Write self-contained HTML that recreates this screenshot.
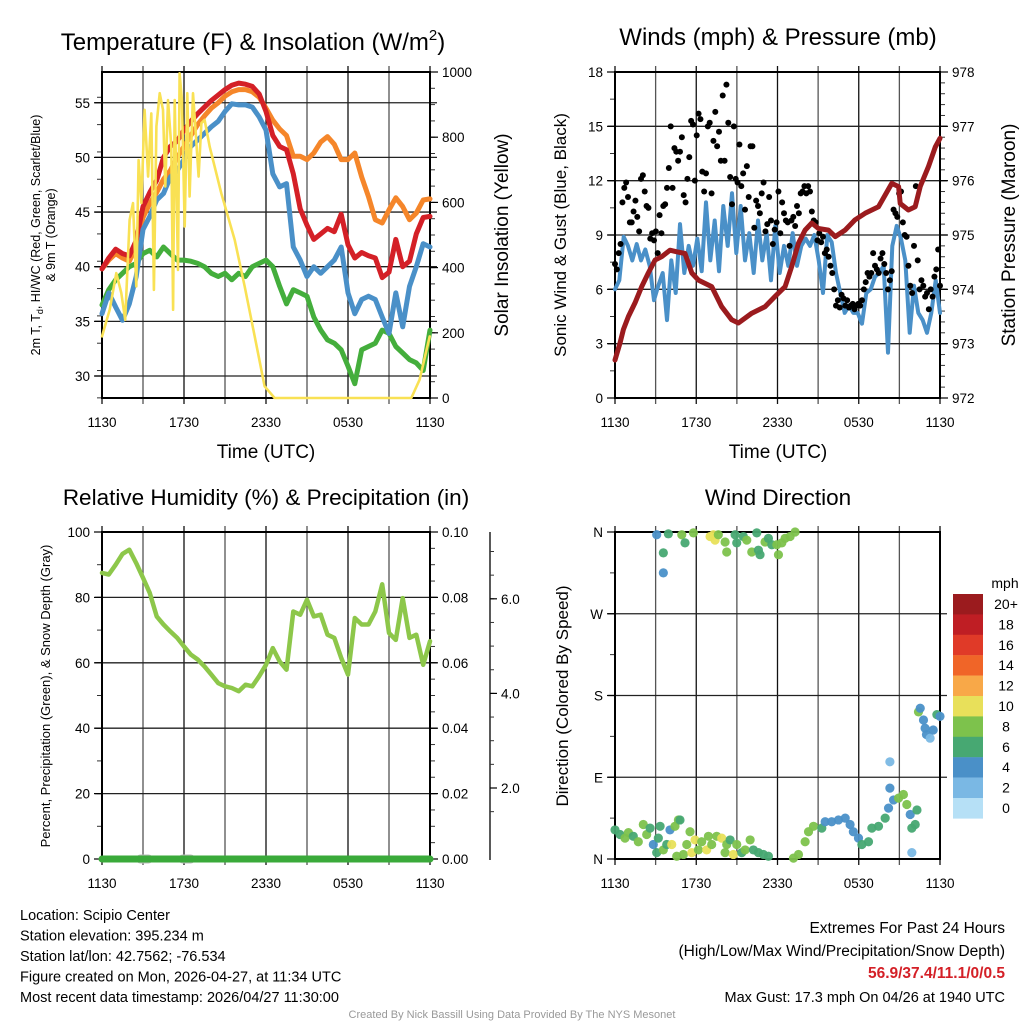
<!DOCTYPE html>
<html><head><meta charset="utf-8"><title>Scipio Center Meteogram</title>
<style>
html,body{margin:0;padding:0;background:#fff;}
svg{display:block;font-family:"Liberation Sans",sans-serif;}
</style></head>
<body>
<svg id="chart" width="1024" height="1024" viewBox="0 0 1024 1024"></svg>
<script>
// ---------- DATA ----------
const tempRed = [39.8,40.8,41.6,41.2,41.0,42.4,45.5,46.8,47.9,50.0,51.0,51.5,52.5,53.3,54.0,54.6,55.2,55.7,56.2,56.6,56.8,56.7,56.5,55.8,54.2,52.0,51.0,50.7,48.5,45.3,43.8,42.5,43.0,43.5,43.2,44.8,42.0,40.8,41.3,41.0,40.8,39.0,39.5,42.5,40.0,40.5,43.0,44.5,44.6];
const tempOrange = [39.8,40.6,41.2,40.8,40.5,41.8,44.5,45.8,46.8,48.0,48.8,50.0,51.0,52.0,53.0,53.8,54.5,55.0,55.6,56.0,56.2,56.2,56.0,55.5,54.5,53.4,52.6,52.0,50.1,50.1,49.8,50.4,51.4,51.9,51.2,49.8,49.8,50.4,48.2,46.4,44.3,44.0,45.2,46.3,45.5,44.3,44.9,46.1,46.2];
const tempBlue = [35.7,37.6,36.3,35.1,36.6,39.1,43.4,44.6,46.1,46.7,48.2,48.8,49.8,51.0,51.6,52.2,52.8,53.3,54.2,54.9,54.8,54.8,54.6,53.7,52.5,48.5,47.3,47.6,41.8,40.6,39.1,40.0,39.4,40.0,40.6,41.8,37.6,35.7,37.0,37.3,37.0,35.4,33.9,37.6,34.5,38.2,40.0,42.1,41.8];
const tempGreen = [36.5,37.9,38.8,39.4,40.0,40.3,41.2,41.5,40.9,41.8,41.2,40.6,40.6,40.5,40.3,40.0,39.4,39.1,39.4,38.8,39.4,39.1,40.0,40.3,40.6,40.0,38.2,36.6,37.9,37.6,37.3,35.4,34.2,33.3,33.0,32.4,30.9,29.3,32.4,32.7,33.0,34.2,33.9,32.7,32.1,31.5,31.2,30.5,34.2];
const solarHours = [0,0.56,1.05,1.41,1.7,2.02,2.27,2.51,2.68,2.88,3.12,3.37,3.61,3.8,3.98,4.22,4.46,4.63,4.83,5.07,5.2,5.32,5.56,5.68,5.85,6.05,6.24,6.41,6.66,6.83,7.07,7.27,7.51,7.88,8.73,9.71,10.44,11.17,11.9,12.63,22.63,23.24,23.98];
const solarValues = [189,271,383,322,240,546,598,342,730,598,884,679,873,332,833,935,884,649,914,771,271,914,393,996,914,526,935,618,935,833,679,843,853,771,628,485,342,189,36,0,0,56,189];
const windSpeed = [6.0,6.5,8.9,8.4,7.6,8.5,7.6,8.2,7.3,5.4,6.2,6.9,4.3,7.6,5.8,9.6,6.9,8.4,7.3,8.8,7.0,10.8,7.6,9.8,7.0,10.6,8.4,11.3,8.0,10.6,7.6,9.1,6.9,9.8,7.6,9.1,6.5,9.5,6.9,8.4,7.3,9.1,7.3,8.4,8.8,8.4,9.0,7.6,5.8,9.0,8.6,6.9,5.8,4.7,5.1,4.7,4.7,4.1,5.8,6.0,6.7,6.9,7.3,2.5,8.4,9.5,8.8,7.6,3.6,6.2,4.7,4.3,3.6,4.7,6.5,4.7];
const gustSpeed = [7.4,7.1,8.0,8.5,10.8,11.6,11.9,11.1,9.7,9.7,10.3,10.9,10.0,9.2,12.1,12.3,11.4,10.6,10.5,8.8,9.1,8.7,9.2,8.0,10.1,9.1,10.6,10.7,11.6,12.7,15.0,11.6,13.8,13.6,13.1,13.6,14.4,11.2,10.8,12.1,13.3,15.3,15.1,12.0,14.5,15.7,15.4,12.5,11.4,12.4,15.0,15.2,11.3,14.2,15.8,13.9,14.7,13.1,16.7,13.1,17.3,15.2,12.2,10.7,15.0,12.1,11.9,14.0,11.7,12.4,10.4,12.8,11.1,13.9,13.9,9.4,10.9,10.6,10.2,11.3,11.9,9.2,9.6,11.1,9.8,8.5,9.3,9.7,11.4,9.1,10.8,10.2,9.8,9.7,8.4,9.8,10.0,9.5,10.6,10.2,11.3,11.4,11.7,11.3,11.7,11.4,10.3,9.8,9.7,8.7,9.1,8.6,8.9,8.0,8.2,7.8,7.3,6.9,6.0,5.1,5.4,5.0,5.7,5.5,5.1,5.4,5.0,5.1,5.2,4.9,5.1,5.2,5.1,5.4,6.0,6.4,6.9,6.7,6.9,8.0,7.3,7.1,6.9,7.7,8.0,7.4,6.9,6.0,6.5,7.0,10.4,10.2,10.0,11.3,11.4,9.7,9.0,8.9,7.3,6.2,5.8,8.4,11.7,7.6,6.0,6.5,6.2,5.6,5.8,4.9,6.0,5.6,6.7,7.1,8.2,6.2];
const pressHours = [0,0.37,0.62,0.99,1.48,1.97,2.46,2.96,3.45,4.06,4.56,5.17,5.67,6.16,7.14,7.88,8.62,9.11,10.1,11.08,11.82,12.56,13.05,13.55,14.04,14.53,15.02,15.76,16.26,16.99,17.73,18.47,19.46,20.44,20.94,21.06,21.67,22.17,22.54,23.15,23.65,24];
const pressValues = [972.70,973.01,973.26,973.50,973.75,974.05,974.30,974.54,974.60,974.72,974.69,974.66,974.30,974.17,974.05,973.68,973.44,973.38,973.56,973.68,973.87,974.05,974.42,974.85,975.09,975.22,975.12,975.09,974.97,975.09,975.28,975.40,975.52,975.95,975.89,975.58,975.46,975.52,975.89,976.26,976.62,976.78];
const rhValues = [87.5,87,90,93.3,94.6,90.5,86,81.3,74.2,71.7,69.6,67.6,65,62.5,61,58.9,56.4,53.8,52.8,52.3,51.3,53.3,52.8,55.9,59.4,64.5,60.4,57.9,75.7,74.7,79.3,74.2,74.7,68.6,67.6,61.5,56.4,73.7,71.7,71.7,75.7,84,69.1,67,79.8,67.6,68.6,59.4,66.6];
const precipValues = [0,0,0,0,0,0,0,0,0,0,0,0,0,0,0,0,0,0,0,0,0,0,0,0,0];
const snowHours = [2.8,3.0,3.2,3.4,5.9,6.1,6.3,6.5];
const snowValues = [0.5,0.5,0.5,0.5,0.5,0.5,0.5,0.5];
const dirHours = [0,0.37,0.74,0.99,1.35,1.72,2.09,2.34,2.59,2.83,3.08,3.2,3.33,3.57,3.82,4.06,4.19,4.43,4.56,4.68,4.8,5.05,5.3,5.54,5.67,5.91,6.16,6.4,6.77,6.9,7.14,7.51,7.88,8.13,8.25,8.5,8.74,8.99,9.36,9.61,9.98,10.22,10.59,10.96,11.33,13.18,13.55,14.04,14.29,14.66,15.27,15.52,16,16.5,17,17.36,17.6,17.98,18.23,18.72,18.97,19.46,19.95,20.2,20.3,20.3,20.57,20.94,21.3,21.55,21.8,21.92,22.17,22.3,21.92,22.41,22.54,22.78,22.9,23,23.27,23.5,23.77,24,3.08,3.57,3.57,3.94,4.93,5.17,5.79,7.02,7.27,7.39,7.63,8.13,8.25,8.87,8.99,9.48,9.73,10.1,10.47,10.59,10.71,11.08,11.33,11.58,11.95,12.07,12.32,12.56,12.93,13.3];
const dirDegrees = [32,27,23,29,25,19,38,27,34,16,7,23,36,10,16,32,16,36,3,43,43,5,16,30,7,21,10,19,10,25,16,25,23,7,16,21,5,16,7,10,21,10,7,5,3,1,5,19,30,36,34,41,41,43,45,38,30,23,16,19,34,36,45,56,78,107,65,67,71,60,49,34,38,54,7,162,166,153,144,137,133,142,159,157,357,337,315,358,357,348,359,355,357,351,357,349,338,357,348,355,351,338,359,340,335,349,353,346,346,335,348,353,355,360];
const dirSpeeds = [6,6,8,8,6,8,8,8,6,4,6,6,6,8,6,4,10,8,8,8,6,8,8,8,10,10,8,8,10,8,8,8,10,8,8,6,10,8,6,8,8,6,6,6,6,8,8,8,8,8,6,4,4,4,4,4,4,4,6,6,6,6,6,4,4,2,4,8,8,8,4,6,6,6,2,8,4,4,4,4,2,4,6,4,4,6,4,6,8,6,8,10,10,10,8,8,8,6,6,6,8,8,6,6,6,8,6,6,8,8,8,8,8,8];
const speedLabels = ['0','2','4','6','8','10','12','14','16','18','20+'];
const speedColors = ['#b6e0f6','#7ab8e4','#4a90c8','#47a872','#7dc24c','#e8e05a','#f8a848','#f06528','#e03a28','#bf1e24','#9b1b1e'];
const timeLabels = ['1130','1730','2330','0530','1130'];

// ---------- DRAWING ----------
const NS = 'http://www.w3.org/2000/svg';
const svg = document.getElementById('chart');
function mk(tag, attrs, parent) {
  const e = document.createElementNS(NS, tag);
  for (const k in attrs) e.setAttribute(k, attrs[k]);
  (parent || svg).appendChild(e);
  return e;
}
function txt(str, x, y, size, anchor, parent, extra) {
  const t = mk('text', Object.assign({x: x, y: y, 'font-size': size, 'text-anchor': anchor || 'middle', fill: '#000'}, extra || {}), parent);
  t.textContent = str;
  return t;
}
function poly(pts, color, width, parent) {
  return mk('polyline', {points: pts.map(p => p[0].toFixed(1) + ',' + p[1].toFixed(1)).join(' '), fill: 'none', stroke: color, 'stroke-width': width, 'stroke-linejoin': 'round', 'stroke-linecap': 'round'}, parent);
}
function frame(g, L, T, R, B, hGrid) {
  for (let i = 0; i <= 8; i++) {
    const x = L + (R - L) * i / 8;
    const v = mk('line', {x1: x, y1: T - 6, x2: x, y2: B + 6, stroke: i % 2 ? '#555' : '#111', 'stroke-width': 1.3}, g);
    
    
  }
  hGrid.forEach(y => {
    const h = mk('line', {x1: L - 7, y1: y, x2: R + 7, y2: y, stroke: '#222', 'stroke-width': 1.3}, g);
    
    
  });
  const r = mk('rect', {x: L, y: T, width: R - L, height: B - T, fill: 'none', stroke: '#000', 'stroke-width': 2}, g);
  
  
  timeLabels.forEach((s, i) => {
    const t = txt(s, L + (R - L) * i / 4, B + 29, 13.5, 'middle', g);
    
    
  });
}
function yTicks(g, x, yFn, majors, minors, labelFn, side, size) {
  minors.forEach(v => {
    const y = yFn(v);
    mk('line', {x1: x, y1: y, x2: x + (side < 0 ? -4 : 4), y2: y, stroke: '#333', 'stroke-width': 1}, g);
  });
  majors.forEach(v => {
    const y = yFn(v);
    mk('line', {x1: x, y1: y, x2: x + (side < 0 ? -7 : 7), y2: y, stroke: '#000', 'stroke-width': 1.2}, g);
    const t = txt(labelFn(v), x + (side < 0 ? -11 : 11), y + 5, size || 13.5, side < 0 ? 'end' : 'start', g);
    
    
  });
}
function rng(a, b, s) { const o = []; for (let v = a; v <= b + 1e-9; v += s) o.push(+v.toFixed(4)); return o; }
function halfHour(arr) { return arr.map((v, i) => [i * 0.5, v]); }

// ---- Panel 1 ----
{
  const g = mk('g', {});
  
  
  const L = 102, R = 430, T = 72, B = 398;
  const xs = h => L + h * (R - L) / 24;
  const yT = t => 376 - (t - 30) * 10.93;
  const yS = s => B - s * (B - T) / 1000;
  frame(g, L, T, R, B, [30, 35, 40, 45, 50, 55].map(yT));
  yTicks(g, L - 1, yT, [30, 35, 40, 45, 50, 55], rng(28, 57.5, 2.5), v => String(v), -1);
  yTicks(g, R + 1, yS, rng(0, 1000, 200), rng(0, 1000, 50), v => String(v), 1);
  const series = [[tempGreen, '#44ae3c', 'dewpoint-line'], [tempOrange, '#f5862a', 'temp-9m-line'], [tempRed, '#d42027', 'temp-2m-line'], [tempBlue, '#4a90c8', 'heat-index-windchill-line']];
  series.forEach(s => {
    const p = poly(halfHour(s[0]).map(d => [xs(d[0]), yT(d[1])]), s[1], 5, g);
    
    
  });
  const sol = poly(solarHours.map((h, i) => [xs(h), yS(solarValues[i])]), '#f9e154', 2.6, g);
  
  
  const ti = txt('Temperature (F) & Insolation (W/m', 253, 50, 24, 'middle', g);
  
  
  const sup = mk('tspan', {'font-size': 15, dy: -10}, ti); sup.textContent = '2';
  const cl = mk('tspan', {dy: 10}, ti); cl.textContent = ')';
  const xl = txt('Time (UTC)', 266, 458, 19, 'middle', g);
  
  
  const yl = mk('text', {transform: 'translate(40,235) rotate(-90)', 'font-size': 12.5, 'text-anchor': 'middle'}, g);
  
  
  yl.innerHTML = '<tspan x="0" dy="0">2m T, T<tspan font-size="9" dy="3">d</tspan><tspan dy="-3">, HI/WC (Red, Green, Scarlet/Blue)</tspan></tspan><tspan x="0" dy="15">&amp; 9m T (Orange)</tspan>';
  const yr = mk('text', {transform: 'translate(508,235) rotate(-90)', 'font-size': 19, 'text-anchor': 'middle'}, g);
  
  
  yr.textContent = 'Solar Insolation (Yellow)';
}

// ---- Panel 2 ----
{
  const g = mk('g', {});
  
  
  const L = 615, R = 940, T = 72, B = 398;
  const xs = h => L + h * (R - L) / 24;
  const yW = w => B - w * (B - T) / 18;
  const yP = p => B - (p - 972) * (B - T) / 6;
  frame(g, L, T, R, B, rng(3, 15, 3).map(yW));
  yTicks(g, L - 1, yW, rng(0, 18, 3), rng(0, 18, 1.5), v => String(v), -1);
  yTicks(g, R + 1, yP, rng(972, 978, 1), rng(972, 978, 0.2), v => String(v), 1);
  const ws = poly(windSpeed.map((v, i) => [xs(i * 24 / (windSpeed.length - 1)), yW(v)]), '#4a90c8', 4, g);
  
  
  gustSpeed.forEach((v, i) => {
    const c = mk('circle', {cx: xs(i * 24 / (gustSpeed.length - 1)), cy: yW(v), r: 3, fill: '#000'}, g);
    
    
  });
  const pr = poly(pressHours.map((h, i) => [xs(h), yP(pressValues[i])]), '#9b1b1e', 5, g);
  
  
  const ti = txt('Winds (mph) & Pressure (mb)', 778, 45, 24, 'middle', g);
  
  
  const xl = txt('Time (UTC)', 778, 458, 19, 'middle', g);
  
  
  const yl = mk('text', {transform: 'translate(566,235) rotate(-90)', 'font-size': 17, 'text-anchor': 'middle'}, g);
  
  
  yl.textContent = 'Sonic Wind & Gust (Blue, Black)';
  const yr = mk('text', {transform: 'translate(1015,235) rotate(-90)', 'font-size': 19, 'text-anchor': 'middle'}, g);
  
  
  yr.textContent = 'Station Pressure (Maroon)';
}

// ---- Panel 3 ----
{
  const g = mk('g', {});
  
  
  const L = 102, R = 430, T = 532, B = 859;
  const xs = h => L + h * (R - L) / 24;
  const yR = r => B - r * (B - T) / 100;
  const yPr = p => B - p * (B - T) / 0.1;
  const ySn = s => 788 - (s - 2) * 47.3;
  frame(g, L, T, R, B, rng(20, 80, 20).map(yR));
  yTicks(g, L - 1, yR, rng(0, 100, 20), rng(0, 100, 10), v => String(v), -1);
  yTicks(g, R + 1, yPr, rng(0, 0.1, 0.02), rng(0, 0.1, 0.005), v => v.toFixed(2), 1);
  mk('line', {x1: 490, y1: 532, x2: 490, y2: 860, stroke: '#000', 'stroke-width': 1.3}, g);
  yTicks(g, 490, ySn, [2, 4, 6], rng(1.5, 7.4, 0.5), v => v.toFixed(1), 1);
  for (let i = 0; i < snowHours.length; i += 4) {
    const sn = poly(snowHours.slice(i, i + 4).map((h, j) => [xs(h), ySn(snowValues[i + j])]), '#bbb', 9, g);
    
    
  }
  const pp = poly(precipValues.map((v, i) => [xs(i), yPr(v)]), '#3aaa3a', 7, g);
  
  
  const rh = poly(halfHour(rhValues).map(d => [xs(d[0]), yR(d[1])]), '#8dc74a', 4.5, g);
  
  
  const ti = txt('Relative Humidity (%) & Precipitation (in)', 266, 505, 22.5, 'middle', g);
  
  
  const yl = mk('text', {transform: 'translate(50,696) rotate(-90)', 'font-size': 13, 'text-anchor': 'middle'}, g);
  
  
  yl.textContent = 'Percent, Precipitation (Green), & Snow Depth (Gray)';
}

// ---- Panel 4 ----
{
  const g = mk('g', {});
  
  
  const L = 615, R = 940, T = 532, B = 859;
  const xs = h => L + h * (R - L) / 24;
  const yD = d => B - d * (B - T) / 360;
  frame(g, L, T, R, B, [90, 180, 270].map(yD));
  yTicks(g, L - 1, yD, [0, 90, 180, 270, 360], rng(0, 360, 45), v => ['N', 'E', 'S', 'W', 'N'][v / 90], -1);
  dirHours.forEach((h, i) => {
    const idx = Math.min(10, Math.round(dirSpeeds[i] / 2));
    const c = mk('circle', {cx: xs(h), cy: yD(dirDegrees[i]), r: 4.6, fill: speedColors[idx], 'fill-opacity': 0.95}, g);
    
    
  });
  const ti = txt('Wind Direction', 778, 505, 22.5, 'middle', g);
  
  
  const yl = mk('text', {transform: 'translate(568,696) rotate(-90)', 'font-size': 17, 'text-anchor': 'middle'}, g);
  
  
  yl.textContent = 'Direction (Colored By Speed)';
  const cb = mk('g', {}, g);
  
  
  const u = txt('mph', 1005, 588, 14, 'middle', cb);
  
  
  for (let i = 10; i >= 0; i--) {
    const y = 594 + (10 - i) * 20.4;
    const r = mk('rect', {x: 953, y: y, width: 30, height: 20.6, fill: speedColors[i]}, cb);
    
    
    const t = txt(speedLabels[i], 1006, y + 15, 14, 'middle', cb);
    
    
  }
}

// ---- Footer ----
{
  const g = mk('g', {});
  
  
  const lines = ['Location: Scipio Center', 'Station elevation: 395.234 m', 'Station lat/lon: 42.7562; -76.534', 'Figure created on Mon, 2026-04-27, at 11:34 UTC', 'Most recent data timestamp: 2026/04/27 11:30:00'];
  lines.forEach((s, i) => {
    const t = txt(s, 20, 920 + i * 20.5, 14.5, 'start', g);
    
    
  });
  const e = mk('g', {});
  
  
  const t1 = txt('Extremes For Past 24 Hours', 1005, 933, 15.5, 'end', e);
  
  
  const t2 = txt('(High/Low/Max Wind/Precipitation/Snow Depth)', 1005, 956, 15.5, 'end', e);
  
  
  const t3 = txt('56.9/37.4/11.1/0/0.5', 1005, 978, 15.5, 'end', e, {fill: '#d42027', 'font-weight': 'bold'});
  
  
  const t4 = txt('Max Gust: 17.3 mph On 04/26 at 1940 UTC', 1005, 1002, 14.5, 'end', e);
  
  
  const c = txt('Created By Nick Bassill Using Data Provided By The NYS Mesonet', 512, 1018, 11, 'middle', svg, {fill: '#999'});
  
  
}
</script>
</body></html>
